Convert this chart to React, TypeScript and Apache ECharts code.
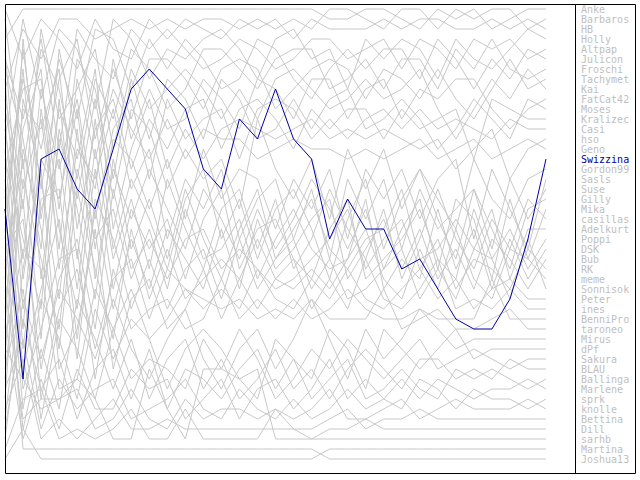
import React, { useEffect, useRef } from "react";
import * as echarts from "echarts";

const names = ["Anke","Barbaros","HB","Holly","Altpap","Julicon","Froschi","Tachymet","Kai","FatCat42","Moses","Kralizec","Casi","hso","Geno","Swizzina","Gordon99","Sasls","Suse","Gilly","Mika","casillas","Adelkurt","Poppi","DSK","Bub","RK","meme","Sonnisok","Peter","ines","BenniPro","taroneo","Mirus","dPf","Sakura","BLAU","Ballinga","Marlene","sprk","knolle","Bettina","Dill","sarhb","Martina","Joshua13"];

const highlighted = "Swizzina";

const Anke = [4,1,1,1,1,1,1,1,1,1,1,1,1,1,1,1,1,1,2,2,1,1,2,3,1,2,1,3,2,1,1];
const Barbaros = [9,3,6,2,2,4,3,2,3,2,3,2,2,3,2,3,2,3,1,1,2,3,1,1,3,1,2,1,1,3,2];
const HB = [1,6,2,4,7,2,5,6,2,4,2,3,4,2,3,2,4,2,3,3,3,2,3,2,2,3,3,2,3,2,3];
const Holly = [14,2,10,3,5,11,2,4,8,5,6,4,3,5,8,4,3,6,5,9,4,6,4,5,8,4,6,7,5,3,4];
const Altpap = [6,12,4,15,3,6,8,3,5,3,5,7,6,4,5,7,6,4,4,6,5,4,7,4,5,7,4,5,4,6,5];
const Julicon = [20,8,15,6,12,3,4,9,4,7,4,6,9,8,4,5,8,10,7,5,7,5,5,8,4,6,9,6,8,5,6];
const Froschi = [2,17,5,9,18,8,12,5,7,11,9,5,5,7,9,6,5,5,9,8,6,9,6,6,9,5,7,4,7,8,7];
const Tachymet = [24,5,19,8,4,14,7,12,6,6,8,11,7,6,7,11,9,7,6,7,10,7,8,10,7,10,12,9,6,9,8];
const Kai = [11,21,3,12,9,5,15,7,11,9,7,9,12,9,12,8,7,9,11,10,8,10,9,7,11,14,11,8,10,7,9];
const FatCat42 = [7,14,25,5,14,19,6,14,9,13,12,8,10,13,8,9,12,8,8,12,9,8,12,9,10,8,8,11,13,11,10];
const Moses = [17,9,8,21,6,9,18,8,14,8,10,14,8,10,14,13,10,13,10,9,13,12,10,12,15,13,10,12,14,10,11];
const Kralizec = [28,11,13,7,23,13,10,17,12,15,11,10,15,11,10,12,15,11,13,11,11,14,11,13,12,11,16,10,11,12,12];
const Casi = [13,26,9,17,10,22,13,10,18,10,14,12,11,16,11,10,11,14,12,14,12,11,13,11,13,12,13,14,12,13,13];
const hso = [33,4,22,11,16,7,23,15,10,17,13,16,13,12,13,14,13,12,14,13,14,13,14,15,14,17,15,13,18,15,14];
const Geno = [10,19,12,25,8,16,9,13,16,12,16,13,14,14,16,15,14,15,15,16,15,16,15,14,16,15,14,16,15,14,15];
const Swizzina = [21,38,16,15,19,21,15,9,7,9,11,17,19,12,14,9,14,16,24,20,23,23,27,26,29,32,33,33,30,24,16];
const Gordon99 = [22,7,28,14,20,10,20,11,13,19,15,18,16,21,12,17,20,16,22,15,19,15,21,17,20,23,16,20,22,18,17];
const Sasls = [5,28,16,20,11,25,14,16,21,16,22,15,20,17,18,23,18,21,17,24,17,20,17,22,18,16,24,17,21,25,18];
const Suse = [31,13,7,27,15,18,11,19,15,24,18,21,17,24,20,18,24,19,26,18,22,18,25,19,23,21,19,25,18,22,19];
const Gilly = [16,24,31,10,26,12,25,18,22,27,20,17,24,20,26,21,19,23,28,22,18,25,20,17,22,26,19,23,27,21,20];
const Mika = [36,10,18,30,13,28,17,22,17,21,25,19,22,26,21,25,22,18,21,25,21,27,23,20,27,20,22,28,20,26,21];
const casillas = [8,31,21,16,29,15,26,20,27,18,23,27,21,19,25,20,27,24,19,23,26,21,28,24,19,24,27,22,25,20,22];
const Adelkurt = [27,16,34,13,21,30,16,25,20,26,19,24,28,23,19,26,23,20,25,27,24,23,19,26,25,22,25,21,28,23,23];
const Poppi = [19,33,11,23,31,17,29,21,25,22,28,22,19,27,23,22,26,28,23,20,28,26,24,21,26,28,21,26,23,27,24];
const DSK = [38,18,26,33,17,24,21,28,23,29,21,26,25,22,28,24,21,25,27,26,20,29,26,28,21,27,23,29,24,28,25];
const Bub = [12,35,20,19,34,21,31,24,29,23,26,29,23,29,22,27,25,22,20,28,25,22,27,23,28,25,29,24,26,29,26];
const RK = [25,22,37,28,24,33,19,27,24,28,24,23,27,25,27,29,28,26,24,21,27,24,22,27,24,29,26,27,29,25,27];
const meme = [40,15,23,35,19,27,34,23,30,25,30,28,26,28,24,28,29,27,29,26,23,28,30,25,29,23,28,30,25,26,28];
const Sonnisok = [18,37,29,22,36,20,24,31,26,31,27,25,30,24,29,26,24,29,26,30,29,27,25,30,27,30,25,26,30,24,29];
const Peter = [30,20,40,31,27,35,28,26,32,27,29,31,29,31,27,30,31,28,30,27,30,31,29,27,30,28,31,29,28,30,30];
const ines = [42,27,17,37,33,23,37,30,28,33,31,27,32,28,31,28,26,31,28,31,26,30,31,29,26,31,30,31,29,31,31];
const BenniPro = [15,39,33,26,25,38,27,33,31,30,33,32,28,32,30,32,30,32,31,29,31,32,32,31,32,32,32,28,32,32,32];
const taroneo = [34,25,27,39,38,29,33,29,34,32,29,30,31,30,32,31,32,30,32,32,32,29,33,32,31,33,33,32,31,33,33];
const Mirus = [44,30,36,29,32,36,30,35,38,34,31,36,39,35,33,37,34,30,34,38,33,36,34,31,33,35,34,34,34,34,34];
const dPf = [21,41,30,34,40,31,36,32,34,39,35,33,35,38,40,34,36,38,33,35,39,33,35,37,35,33,36,35,35,35,35];
const Sakura = [37,29,42,32,35,40,33,38,36,37,39,34,37,33,36,40,38,35,37,34,36,38,36,34,37,36,35,36,37,36,36];
const BLAU = [26,43,35,41,30,34,39,34,40,36,34,39,36,40,38,35,39,37,40,37,35,37,39,36,36,38,37,38,36,37,37];
const Ballinga = [43,32,39,36,42,37,35,40,35,41,37,38,40,37,35,39,36,40,38,36,40,39,37,39,40,37,38,37,38,39,38];
const Marlene = [32,44,38,43,37,41,41,37,39,38,42,40,38,42,39,38,41,39,36,40,38,40,38,40,38,39,40,39,39,38,39];
const sprk = [39,34,43,38,41,39,38,42,41,40,38,41,42,39,41,42,40,42,41,39,41,40,41,38,39,41,39,40,40,41,40];
const knolle = [35,38,41,40,39,43,42,39,42,43,40,42,41,41,42,41,42,41,39,42,42,41,40,42,41,40,41,41,41,40,41];
const Bettina = [41,36,44,42,44,42,40,43,43,42,43,43,43,43,43,43,43,43,42,41,43,42,42,41,42,42,42,42,42,42,42];
const Dill = [45,40,39,44,43,44,43,41,44,44,41,44,44,44,44,41,43,44,43,43,42,43,43,43,43,43,43,43,43,43,43];
const sarhb = [29,42,40,40,38,40,44,44,37,41,44,37,37,38,37,44,44,44,44,44,44,44,44,44,44,44,44,44,44,44,44];
const Martina = [46,43,46,46,46,46,46,46,46,46,46,46,46,46,46,46,46,46,45,45,45,45,45,45,45,45,45,45,45,45,45];
const Joshua13 = [23,45,45,45,45,45,45,45,45,45,45,45,45,45,45,45,45,45,46,46,46,46,46,46,46,46,46,46,46,46,46];

const ranks = [Anke,Barbaros,HB,Holly,Altpap,Julicon,Froschi,Tachymet,Kai,FatCat42,Moses,Kralizec,Casi,hso,Geno,Swizzina,Gordon99,Sasls,Suse,Gilly,Mika,casillas,Adelkurt,Poppi,DSK,Bub,RK,meme,Sonnisok,Peter,ines,BenniPro,taroneo,Mirus,dPf,Sakura,BLAU,Ballinga,Marlene,sprk,knolle,Bettina,Dill,sarhb,Martina,Joshua13];

const GRAY = "#c8c8c8";
const BLUE = "#0000a0";

export default function App() {
  const ref = useRef<HTMLDivElement>(null);
  useEffect(() => {
    if (!ref.current) return;
    const chart = echarts.init(ref.current, null, { renderer: "svg" });
    const series: any[] = names.map((n, i) => ({
      name: n,
      type: "line",
      symbol: "none",
      silent: true,
      z: n === highlighted ? 5 : 2,
      lineStyle: { color: n === highlighted ? BLUE : GRAY, width: 1 },
      data: ranks[i].map((v, t) => [t, v]),
    }));
    const texts: any[] = names.map((n, i) => ({
      type: "text",
      x: 581,
      y: 10 * (i + 1) - 1,
      z: 10,
      style: {
        text: n,
        fill: n === highlighted ? BLUE : "#c0c0c0",
        font: "10px 'DejaVu Sans Mono', monospace",
        textVerticalAlign: "middle",
        textAlign: "left",
      },
    }));
    chart.setOption({
      animation: false,
      backgroundColor: "#ffffff",
      grid: { left: 5, top: 0, width: 541, height: 470 },
      xAxis: { type: "value", min: 0, max: 30, show: false },
      yAxis: { type: "value", inverse: true, min: 0.1, max: 47.1, show: false },
      series,
      graphic: [
        {
          type: "rect",
          z: 20,
          shape: { x: 5.5, y: 4.5, width: 630, height: 469 },
          style: { fill: "none", stroke: "#000000", lineWidth: 1 },
        },
        {
          type: "line",
          z: 20,
          shape: { x1: 575.5, y1: 4.5, x2: 575.5, y2: 473.5 },
          style: { stroke: "#000000", lineWidth: 1 },
        },
        ...texts,
      ],
    });
    return () => chart.dispose();
  }, []);
  return (
    <div
      ref={ref}
      style={{ position: "absolute", left: 0, top: 0, width: 640, height: 480, background: "#fff" }}
    />
  );
}
